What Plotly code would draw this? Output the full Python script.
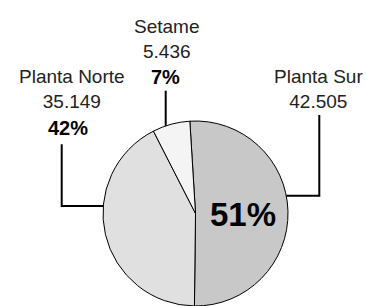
import math
import plotly.graph_objects as go

# ---- data ----
labels = ["Planta Sur", "Planta Norte", "Setame"]
values = [42505, 35149, 5436]
colors = ["#c8c8c8", "#e0e0e0", "#f4f4f4"]

W, H = 366, 306
FONT = "Liberation Sans, Arial, sans-serif"

total = sum(values)
pcts = [round(100 * v / total) for v in values]
fmt = lambda v: f"{v:,}".replace(",", ".")

# pie placement (pixels)
dom_x = [101.7 / W, 289.3 / W]
dom_y = [0.0, 1 - 121 / H]
pw = (dom_x[1] - dom_x[0]) * W
ph = (dom_y[1] - dom_y[0]) * H
R = min(pw, ph) / 2
cx = (dom_x[0] + dom_x[1]) / 2 * W
cy = H - (dom_y[0] + dom_y[1]) / 2 * H

fig = go.Figure(go.Pie(
    labels=labels, values=values, sort=False, direction="clockwise",
    rotation=-3.5, textinfo="none", hoverinfo="label+value+percent",
    marker=dict(colors=colors, line=dict(color="#000", width=1)),
    domain=dict(x=dom_x, y=dom_y), showlegend=False,
))

px = lambda x: x / W
py = lambda y: 1 - y / H

def path(pts):
    return "M " + " L ".join(f"{px(x)},{py(y)}" for x, y in pts)

# leader lines (elbows are layout positions; anchors on the circle)
sur_y = 195.7
sur_anchor = (cx + math.sqrt(R**2 - (sur_y - cy) ** 2), sur_y)
norte_y = 206
norte_anchor = (cx - math.sqrt(R**2 - (norte_y - cy) ** 2), norte_y)
set_x = 165.7
set_anchor = (set_x, cy - math.sqrt(R**2 - (set_x - cx) ** 2))

leaders = [
    [sur_anchor, (319.3, sur_y), (319.3, 115)],
    [norte_anchor, (61.7, norte_y), (61.7, 144.3)],
    [set_anchor, (set_x, 90.7)],
]
shapes = [dict(type="path", xref="paper", yref="paper", path=path(p),
               line=dict(color="#000", width=2)) for p in leaders]

ann = []
def add(text, x, y, size, bold=False, color="#1a1a1a"):
    ann.append(dict(text=f"<b>{text}</b>" if bold else text, x=px(x), y=py(y),
                    xref="paper", yref="paper", xanchor="center", yanchor="middle",
                    showarrow=False, font=dict(family=FONT, size=size, color=color)))

# name + value blocks
add(f"{labels[0]}<br>{fmt(values[0])}", 318, 89, 19, color="#222")
add(f"{labels[1]}<br>{fmt(values[1])}", 71.5, 89, 19, color="#222")
add(f"{labels[2]}<br>{fmt(values[2])}", 166, 39, 19, color="#222")
# percentages
add(f"{pcts[1]}%", 67.5, 128, 20, True, "#000")
add(f"{pcts[2]}%", 165.5, 77, 20, True, "#000")
add(f"{pcts[0]}%", 243, 215, 33, True, "#000")

fig.update_layout(width=W, height=H, margin=dict(l=0, r=0, t=0, b=0),
                  paper_bgcolor="white", plot_bgcolor="white",
                  shapes=shapes, annotations=ann)
fig.write_html("out.html", config={"displayModeBar": False},
               post_script="document.body.style.margin='0';")
